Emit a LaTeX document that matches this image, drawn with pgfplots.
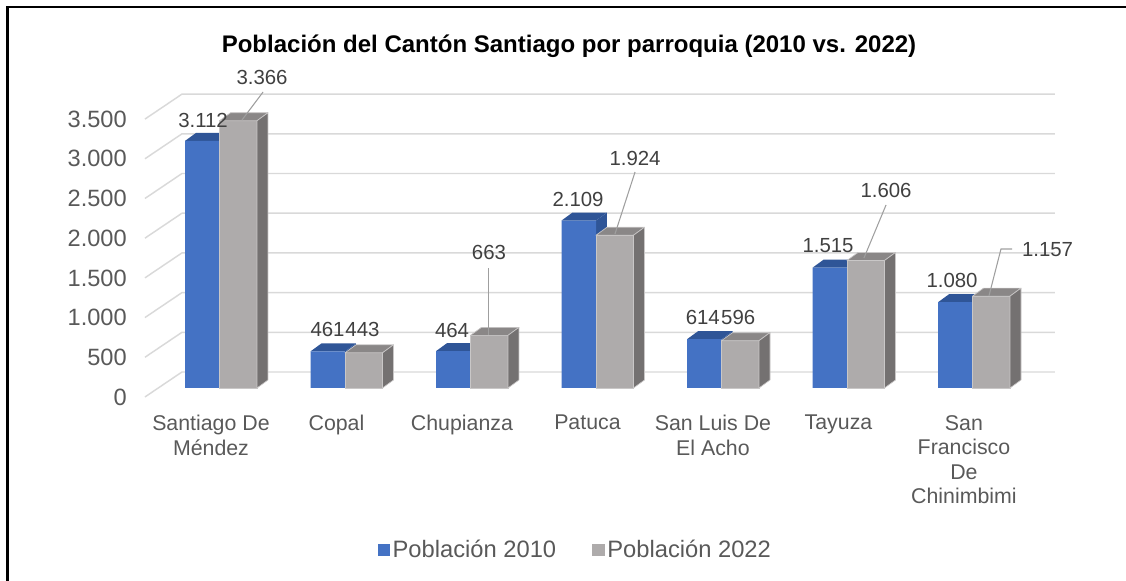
\documentclass[border=0pt]{standalone}
\usepackage{fontspec}
\setmainfont{Liberation Sans}
\usepackage{pgfplots}
\pgfplotsset{compat=1.18}
\definecolor{blueF}{HTML}{4472C4}
\definecolor{blueT}{HTML}{2F5597}
\definecolor{greyF}{HTML}{AEABAB}
\definecolor{greyT}{HTML}{8A8787}
\definecolor{greyS}{HTML}{747171}
\definecolor{gridc}{HTML}{D9D9D9}
\definecolor{txt}{HTML}{595959}
\definecolor{lbl}{HTML}{404040}
\definecolor{edge}{HTML}{C9C7C7}

% Población 2010 and 2022 per parroquia (categories 0..6)
\def\valsA{3112,461,464,2109,614,1515,1080}
\def\valsB{3366,443,663,1924,596,1606,1157}
\def\dx{0.0876}
\def\dy{100.8}
\def\wA{0.2749}
\def\wB{0.2988}

\begin{document}
\begin{tikzpicture}
\begin{axis}[
  scale only axis, width=844.5pt, height=435.75pt,
  xmin=-1.749, xmax=7.2231, ymin=-2431, ymax=4887,
  clip=false,
  axis line style={draw=none}, tick style={draw=none},
  ytick={0,500,...,3500},
  yticklabels={0,500,1.000,1.500,2.000,2.500,3.000,3.500},
  yticklabel style={anchor=east, inner sep=0pt, xshift=95.25pt, yshift=-6.75pt,
    font=\fontsize{17.7}{20}\selectfont, text=txt},
  xtick={-0.068,0.932,1.932,2.932,3.932,4.932,5.932},
  xticklabels={Santiago De\\Méndez, Copal, Chupianza, Patuca, San Luis De\\El Acho, Tayuza, San\\Francisco\\De\\Chinimbimi},
  xticklabel style={align=center, anchor=north, inner sep=0pt, yshift=124.5pt,
    font=\fontsize{16}{18.4}\selectfont, text=txt},
  legend style={at={(axis cs:2.84,-2040)}, anchor=center, draw=none, fill=none,
    legend columns=2, font=\fontsize{17.8}{20}\selectfont, text=txt,
    /tikz/every even column/.append style={column sep=25pt}},
]
% gridlines (left wall + back wall)
\pgfplotsinvokeforeach{0,500,...,3500}{
  \pgfmathsetmacro\gb{#1+201.5}
  \pgfmathsetmacro\gf{#1-113}
  \edef\tmp{\noexpand\addplot[gridc, line width=1.1pt, line join=round, forget plot] coordinates {(-0.594,\gf) (-0.299,\gb) (6.657,\gb)};}\tmp
}
% blue sides
\pgfplotsinvokeforeach{0,...,6}{
  \pgfmathsetmacro\myv{{\valsA}[#1]}
  \pgfmathsetmacro\xa{#1+\dx}
  \pgfmathsetmacro\vt{\myv+\dy}
  \edef\tmp{\noexpand\addplot[fill=blueT, draw=none, forget plot] coordinates {(#1,0) (\xa,\dy) (\xa,\vt) (#1,\myv)} -- cycle;}\tmp
}
% blue tops
\pgfplotsinvokeforeach{0,...,6}{
  \pgfmathsetmacro\myv{{\valsA}[#1]}
  \pgfmathsetmacro\xl{#1-\wA}
  \pgfmathsetmacro\xlb{#1-\wA+\dx}
  \pgfmathsetmacro\xrb{#1+\dx}
  \pgfmathsetmacro\vt{\myv+\dy}
  \edef\tmp{\noexpand\addplot[fill=blueT, draw=none, forget plot] coordinates {(\xl,\myv) (\xlb,\vt) (\xrb,\vt) (#1,\myv)} -- cycle;}\tmp
}
% blue fronts
\addplot[ybar, bar width=0.2749, bar shift=-0.13745, fill=blueF, draw=none,
  legend image code/.code={\fill[blueF] (0pt,-4.3pt) rectangle (8.8pt,4.3pt);}]
  coordinates {(0,3112) (1,461) (2,464) (3,2109) (4,614) (5,1515) (6,1080)};
\addlegendentry{Población 2010}
% grey fronts
\addplot[ybar, bar width=0.2988, bar shift=0.1494, fill=greyF, draw=edge, line width=0.5pt,
  legend image code/.code={\fill[greyF] (0pt,-4.3pt) rectangle (8.8pt,4.3pt);}]
  coordinates {(0,3366) (1,443) (2,663) (3,1924) (4,596) (5,1606) (6,1157)};
\addlegendentry{Población 2022}
% grey tops
\pgfplotsinvokeforeach{0,...,6}{
  \pgfmathsetmacro\myv{{\valsB}[#1]}
  \pgfmathsetmacro\xlb{#1+\dx}
  \pgfmathsetmacro\xr{#1+\wB}
  \pgfmathsetmacro\xrb{#1+\wB+\dx}
  \pgfmathsetmacro\vt{\myv+\dy}
  \edef\tmp{\noexpand\addplot[fill=greyT, draw=edge, line width=0.5pt, line join=round, forget plot] coordinates {(#1,\myv) (\xlb,\vt) (\xrb,\vt) (\xr,\myv)} -- cycle;}\tmp
}
% grey sides
\pgfplotsinvokeforeach{0,...,6}{
  \pgfmathsetmacro\myv{{\valsB}[#1]}
  \pgfmathsetmacro\xr{#1+\wB}
  \pgfmathsetmacro\xrb{#1+\wB+\dx}
  \pgfmathsetmacro\vt{\myv+\dy}
  \edef\tmp{\noexpand\addplot[fill=greyS, draw=edge, line width=0.5pt, line join=round, forget plot] coordinates {(\xr,0) (\xrb,\dy) (\xrb,\vt) (\xr,\myv)} -- cycle;}\tmp
}
% leader lines
\addplot[gray!75, line width=0.8pt, forget plot] coordinates {(0.347,3728) (0.179,3375)};
\addplot[gray!75, line width=0.8pt, forget plot] coordinates {(2.147,1511) (2.147,667)};
\addplot[gray!75, line width=0.8pt, forget plot] coordinates {(3.311,2720) (3.151,1939)};
\addplot[gray!75, line width=0.8pt, forget plot] coordinates {(5.311,2305) (5.135,1637)};
\addplot[gray!75, line width=0.8pt, forget plot] coordinates {(6.315,1751) (6.227,1751) (6.131,1159)};
% data labels
\begin{scope}[every node/.style={font=\fontsize{15.3}{17}\selectfont, text=lbl, inner sep=0pt}]
\node at (axis cs:-0.131,3375) {3.112};
\node at (axis cs:0.339,3917) {3.366};
\node at (axis cs:0.861,743) {461};
\node at (axis cs:1.139,743) {443};
\node at (axis cs:1.853,730) {464};
\node at (axis cs:2.147,1713) {663};
\node at (axis cs:2.857,2380) {2.109};
\node at (axis cs:3.311,2897) {1.924};
\node at (axis cs:3.851,882) {614};
\node at (axis cs:4.133,882) {596};
\node at (axis cs:4.849,1788) {1.515};
\node at (axis cs:5.311,2494) {1.606};
\node at (axis cs:5.837,1360) {1.080};
\node at (axis cs:6.598,1738) {1.157};
\end{scope}
% title
\node[font=\fontsize{18}{21}\selectfont\bfseries, text=black] at (axis cs:2.785,4310)
  {Población del Cantón Santiago por parroquia (2010 vs. 2022)};
\end{axis}
\draw[line width=1.9pt] ([xshift=5.6pt,yshift=-3pt]current axis.south west)
  -- ([xshift=5.6pt,yshift=-5.25pt]current axis.north west)
  -- ([xshift=3pt,yshift=-5.25pt]current axis.north east);
\pgfresetboundingbox
\useasboundingbox (current axis.south west) rectangle (current axis.north east);
\end{tikzpicture}
\end{document}
